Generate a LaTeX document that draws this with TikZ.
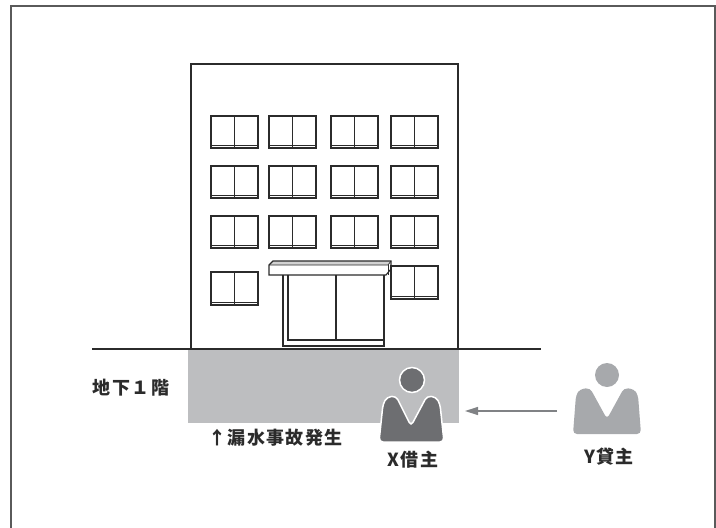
\documentclass[tikz,border=0pt]{standalone}
\usepackage{fontspec}
\newfontfamily\jp[LetterSpace=8]{Noto Sans CJK JP}
\usetikzlibrary{arrows.meta}
\definecolor{framegray}{HTML}{5A5A5A}
\definecolor{basement}{HTML}{BDBEC0}
\definecolor{tenant}{HTML}{6D6E71}
\definecolor{landlord}{HTML}{A7A9AC}
\definecolor{arrowgray}{HTML}{808285}
\definecolor{ink}{HTML}{2B2B2B}
\tikzset{
  wall/.style={draw=ink, line width=1.3pt},
  win/.style={draw=ink, line width=1.1pt},
  lbl/.style={font=\jp\bfseries\fontsize{18}{18}\selectfont, text=ink, inner sep=0pt},
  window/.pic={
    \draw[win, line width=1.8pt] (0,0) -- (0,#1);
    \draw[win] (0,0) rectangle (47,#1);
    \draw[win] (23.5,0) -- (23.5,#1);
    \draw[win, line width=0.6pt] (0,#1-3) -- (47,#1-3);
  },
}
\begin{document}
\begin{tikzpicture}[x=1pt,y=-1pt]
\useasboundingbox (0,0) rectangle (716,528);
% outer frame
\draw[draw=framegray, line width=2pt] (11,540) -- (11,6) -- (715,6) -- (715,540);

% basement floor
\fill[basement] (188,349) rectangle (459,423);

% building outline and ground
\draw[wall] (191,349) -- (191,64) -- (458,64) -- (458,349);
\draw[wall] (92,349) -- (541,349);

% windows
\foreach \wx in {211,269,331,391}{
  \foreach \wy in {116,166,216}{
    \pic at (\wx,\wy) {window=32};
  }
}
\pic at (211,272) {window=33};
\pic at (391,266) {window=33};

% entrance canopy
\fill[gray!35] (269,265) -- (273,261) -- (391,261) -- (388,265) -- cycle;
\draw[win] (269,265) -- (273,261) -- (391,261) -- (391,269) -- (386,275) -- (269,275) -- cycle;
\draw[win, line width=0.7pt] (269,265) -- (388,265) -- (391,261);
\draw[win, line width=0.7pt] (388,265) -- (388,275);

% entrance door
\draw[win] (283,275) -- (283,346) -- (384,346) -- (384,275);
\draw[win] (288,275) -- (288,340) -- (383,340);
\draw[win] (336,275) -- (336,340);

% tenant X
\fill[tenant, draw=white, line width=1.5pt] (412,380) circle (12.5);
\fill[tenant, draw=white, line width=1.5pt, rounded corners=4pt]
  (379,442) -- (383,404) -- (387,397) -- (396,396) -- (411,426)
  -- (427,396) -- (436,397) -- (440,404) -- (444,442) -- cycle;
\coordinate (xperson) at (412,410);

% landlord Y
\fill[landlord] (607,375) circle (12);
\fill[landlord, rounded corners=4pt]
  (573,434) -- (576,395) -- (580,389) -- (590,388) -- (607,419)
  -- (624,388) -- (634,389) -- (638,395) -- (641,434) -- cycle;
\coordinate (yperson) at (607,410);

% claim arrow
\coordinate (yfrom) at (557,411);
\coordinate (xto) at (465,411);
\draw[arrowgray, line width=1.4pt, -{Triangle[length=13pt,width=8pt]}] (yfrom) -- (xto);

% labels
\node[lbl] (floor) at (131,388) {地下１階};
\node[lbl, anchor=west] (leak) at (208,438) {↑漏水事故発生};
\node[lbl] (xlab) at (413,460) {X借主};
\node[lbl] (ylab) at (609,457) {Y貸主};
\end{tikzpicture}
\end{document}
